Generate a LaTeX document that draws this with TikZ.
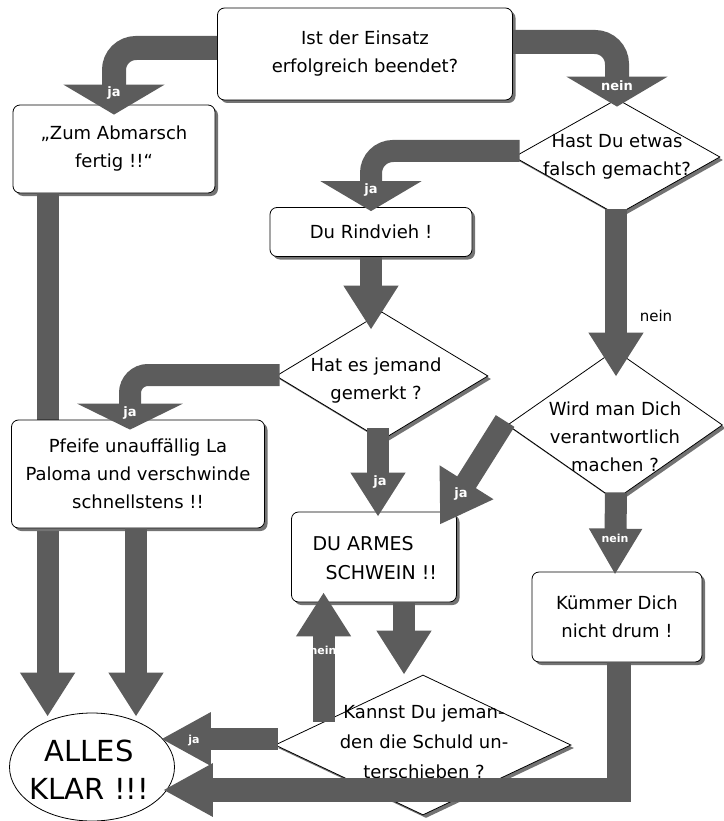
\documentclass[tikz,border=0pt]{standalone}
\usepackage{fontspec}
\setmainfont{DejaVu Sans}
\usetikzlibrary{shapes.geometric,arrows.meta,calc,shadows}
\definecolor{arr}{gray}{0.36}
\begin{document}
\begin{tikzpicture}[x=1pt,y=-1pt,
  txt/.style={font=\fontsize{18}{28}\selectfont, align=center},
  shad/.style={drop shadow={shadow xshift=3pt,shadow yshift=-3pt,fill=black!55,opacity=1}},
  box/.style={draw=black, line width=0.8pt, rounded corners=7pt, fill=white, shad, inner sep=0pt, txt},
  dia/.style={diamond, draw=black, line width=0.8pt, fill=white, inner sep=0pt, shad},
  fat/.style={draw=arr, line width=22pt, -{Triangle[length=44pt,width=52pt]}},
  wide/.style={draw=arr, line width=24pt, rounded corners=22pt, -{Triangle[length=30pt,width=100pt]}},
  lab/.style={text=white, font=\bfseries\fontsize{13}{13}\selectfont, inner sep=0pt},
]
\useasboundingbox (0,0) rectangle (723,821);

% nodes drawn before the long left shaft
\node[box, minimum width=295pt, minimum height=92pt] (B0) at (365,54) {Ist der Einsatz\\erfolgreich beendet?};
\node[box, minimum width=202pt, minimum height=88pt] (B1) at (114,149) {„Zum Abmarsch\\fertig !!“};
\node[ellipse, draw=black, line width=0.8pt, fill=white, minimum width=165pt, minimum height=108pt, inner sep=0pt] (AK) at (92,767) {};
\node[font=\fontsize{29}{38}\selectfont, align=center] (AKt) at (89,770) {ALLES\\KLAR !!!};

% shaft from "Zum Abmarsch" behind the La Paloma box
\draw[fat] ($(B1.south west)+(35,0)$) coordinate (a14) -- ($(a14 |- AK.north)+(0,4)$);

\node[box, minimum width=253pt, minimum height=108pt] (B3) at (138,474) {Pfeife unauffällig La\\Paloma und verschwinde\\schnellstens !!};
\draw[fat] ($(B3.south)+(-2,0)$) coordinate (a15) -- ($(a15 |- AK.north)+(0,4)$);

% remaining nodes
\node[dia, minimum width=206pt, minimum height=116pt] (D1) at (617,157) {};
\node[txt] (D1t) at (617,157) {Hast Du etwas\\falsch gemacht?};
\node[box, minimum width=202pt, minimum height=49pt] (B2) at (371,232) {Du Rindvieh !};
\node[dia, minimum width=212pt, minimum height=128pt] (D2) at (382,376) {};
\node[txt] (D2t) at (376,381) {Hat es jemand\\gemerkt ?};
\node[dia, minimum width=215pt, minimum height=150pt] (D3) at (615,425) {};
\node[txt] (D3t) at (615,437) {Wird man Dich\\verantwortlich\\machen ?};
\node[box, minimum width=165pt, minimum height=90pt] (B4) at (374,557) {};
\node[font=\fontsize{19}{29}\selectfont, align=left, anchor=west] (B4t) at (309,558) {DU ARMES\\\hspace*{13pt}SCHWEIN !!};
\node[box, minimum width=170pt, minimum height=90pt] (B5) at (617,617) {Kümmer Dich\\nicht drum !};
\node[dia, minimum width=296pt, minimum height=140pt] (D4) at (423,745) {};
\node[txt, font=\fontsize{18}{30}\selectfont] (D4t) at (424,742) {Kannst Du jeman-\\den die Schuld un-\\terschieben ?};

% connectors
\draw[wide] ($(B0.west)+(0,-6)$) -| ($(B1.north)+(0,10)$);
\draw[wide] ($(B0.east)+(0,-12)$) -| ($(D1.north)+(0,8)$);
\draw[wide, line width=22pt] ($(D1.west)+(6,-6)$) -| ($(B2.north)+(0,4)$);
\draw[fat] (B2.south) -- ($(B2.south |- D2.north)+(0,18)$);
\draw[wide, line width=22pt, rounded corners=18pt, -{Triangle[length=26pt,width=105pt]}] ($(D2.west)+(4,-1)$) -| ($(B3.north)+(-8,10)$);
\draw[fat] ($(D2.south)+(-4,-12)$) -- ($(B4.north)+(4,5)$);
\draw[fat] ($(D1.south)+(-1,-6)$) -- ($(D1.south |- D3.north)+(-1,27)$);
\draw[fat, -{Triangle[length=50pt,width=60pt]}] ($(D3.west)+(-2,-4)$) -- ($(B4.north east)+(-17,13)$);
\draw[fat, -{Triangle[length=46pt,width=50pt]}] ($(D3.south)+(1,-8)$) -- ($(B5.north)+(-2,3)$);
\draw[fat] ($(B4.south)+(30,0)$) coordinate (a10) -- (a10 |- D4.north);
\draw[fat] ($(D4.west)!0.33!(D4.north)$) coordinate (a11) -- ($(a11 |- B4.south)+(0,-10)$);
\draw[fat, -{Triangle[length=50pt,width=50pt]}] ($(D4.west)+(3,-6)$) coordinate (a12) -- ($(a12 -| AK.east)+(-14,0)$);
\draw[draw=arr, line width=24pt, -{Triangle[length=50pt,width=50pt]}] ($(B5.south)+(2,0)$) |- ($(AK.east)+(-12,23)$);

% labels
\node[lab] (L1) at (114,93) {ja};
\node[lab] (L2) at (617,86) {nein};
\node[lab] (L3) at (371,190) {ja};
\node[lab] (L5) at (130,413) {ja};
\node[lab] (L6) at (380,482) {ja};
\node[font=\fontsize{15}{15}\selectfont, inner sep=0pt] (L7) at (656,316) {nein};
\node[lab] (L8) at (461,494) {ja};
\node[lab, font=\bfseries\fontsize{11}{11}\selectfont] (L9) at (615,538) {nein};
\node[lab, font=\bfseries\fontsize{11}{11}\selectfont] (L11) at (323,650) {nein};
\node[lab, font=\bfseries\fontsize{11}{11}\selectfont] (L12) at (194,740) {ja};
\end{tikzpicture}
\end{document}
